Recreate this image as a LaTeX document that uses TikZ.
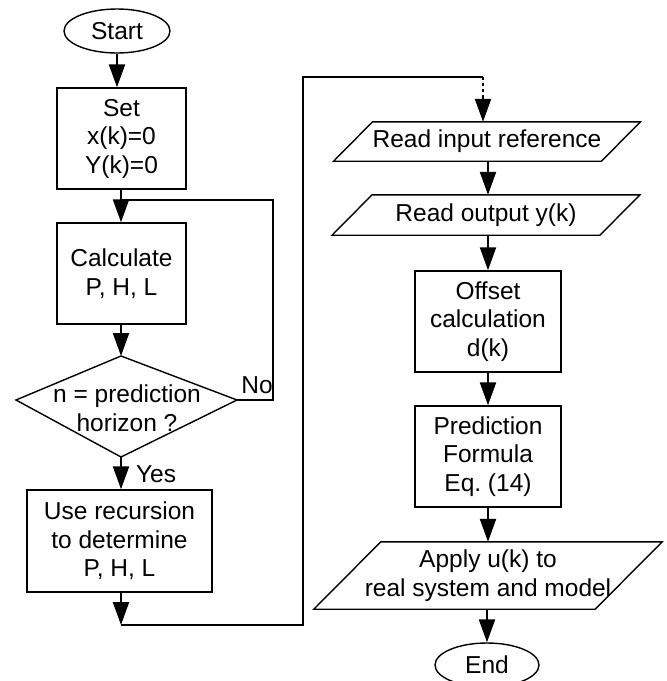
\documentclass[tikz,border=0pt]{standalone}
\usepackage{fontspec}
\setmainfont{Liberation Sans}
\usetikzlibrary{arrows.meta,shapes.geometric}

\newcommand\flowfont{\fontsize{24.5}{28.5}\selectfont\frenchspacing}
% parallelogram around a plain node: #1 node name, #2 half of the slant
\newcommand\drawslant[2]{%
  \draw[shape line] ([xshift=-#2pt]#1.south west) -- ([xshift=#2pt]#1.north west)
    -- ([xshift=#2pt]#1.north east) -- ([xshift=-#2pt]#1.south east) -- cycle;}

\tikzset{
  shape line/.style={line width=1.4pt, line join=miter},
  box/.style={draw, shape line, rectangle, inner sep=0pt, align=center, font=\flowfont},
  term/.style={draw, shape line, ellipse, inner sep=0pt, font=\flowfont},
  iobody/.style={rectangle, inner sep=0pt, align=center, font=\flowfont},
  label text/.style={inner sep=0pt, font=\flowfont},
  arr/.style={line width=2.2pt, -{Triangle[length=23pt,width=16pt]}},
  link/.style={line width=1.4pt},
  dotlink/.style={line width=2.2pt, dash pattern=on 3pt off 3pt}
}

\begin{document}
\begin{tikzpicture}[x=1pt, y=-1pt]
\useasboundingbox (0,0) rectangle (667,681);

% ---- left column ----
\node[term, minimum width=106pt, minimum height=44pt] (start) at (117,31) {Start};
\node[box, minimum width=129pt, minimum height=101pt] (set) at (121.5,138.5)
  {Set\\x(k)=0\\Y(k)=0};
\node[box, minimum width=129pt, minimum height=101pt] (calc) at (121.5,273.5)
  {Calculate\\P, H, L};

% decision
\coordinate (dtop) at (121,356);
\coordinate (dright) at (237,400);
\coordinate (dbot) at (121,457);
\coordinate (dleft) at (16,400);
\draw[shape line] (dtop) -- (dright) -- (dbot) -- (dleft) -- cycle;
\node[label text, align=center] (dtext) at (127,408) {n = prediction\\horizon ?};

\node[box, minimum width=185pt, minimum height=102pt] (use) at (119.5,541)
  {Use recursion\\to determine\\P, H, L};

\node[label text] (no) at (257,385) {No};
\node[label text] (yes) at (156,474.5) {Yes};

% ---- right column ----
\node[iobody, minimum width=267.5pt, minimum height=39pt] (rin) at (487,141.5)
  {Read input reference};
\drawslant{rin}{19.5}
\node[iobody, minimum width=267.5pt, minimum height=40pt] (rout) at (486,215)
  {Read output y(k)};
\drawslant{rout}{20}
\node[box, minimum width=146pt, minimum height=101pt] (offs) at (488,321.5)
  {Offset\\calculation\\d(k)};
\node[box, minimum width=146pt, minimum height=101pt] (pred) at (488,456.5)
  {Prediction\\Formula\\Eq. (14)};
\node[iobody, minimum width=281pt, minimum height=67pt] (apply) at (488,575.5)
  {Apply u(k) to\\real system and model};
\drawslant{apply}{33.5}
\node[term, minimum width=104pt, minimum height=44pt] (stop) at (487,665) {End};

% ---- connectors ----
\draw[arr] (start) -- (start |- set.north);
\draw[arr] (set.south -| dtop) -- (dtop |- calc.north);
\draw[arr] (calc.south -| dtop) -- (dtop);
\draw[arr] (dbot) -- (dbot |- use.north);

% loop back when the horizon is not reached
\coordinate (loopc) at (273,200);
\coordinate (join) at (121,200);
\draw[link] (dright) -| (loopc) -- (join);

% route from the left column over to the right column
\coordinate (low) at (121,625);
\coordinate (lowr) at (303,625);
\coordinate (topl) at (303,77);
\coordinate (topr) at (483,77);
\coordinate (dotend) at (483,98);
\draw[arr] (dbot |- use.south) -- (low);
\draw[link] (low) -- (lowr) -- (topl) -- (topr);
\draw[dotlink] (topr) -- (dotend);
\draw[arr] (dotend) -- (dotend |- rin.north);

\draw[arr] (rin.south -| pred) -- (pred |- rout.north);
\draw[arr] (rout.south -| pred) -- (offs.north);
\draw[arr] (offs) -- (pred);
\draw[arr] (pred) -- (pred |- apply.north);
\draw[arr] (apply.south -| stop) -- (stop);
\end{tikzpicture}
\end{document}
